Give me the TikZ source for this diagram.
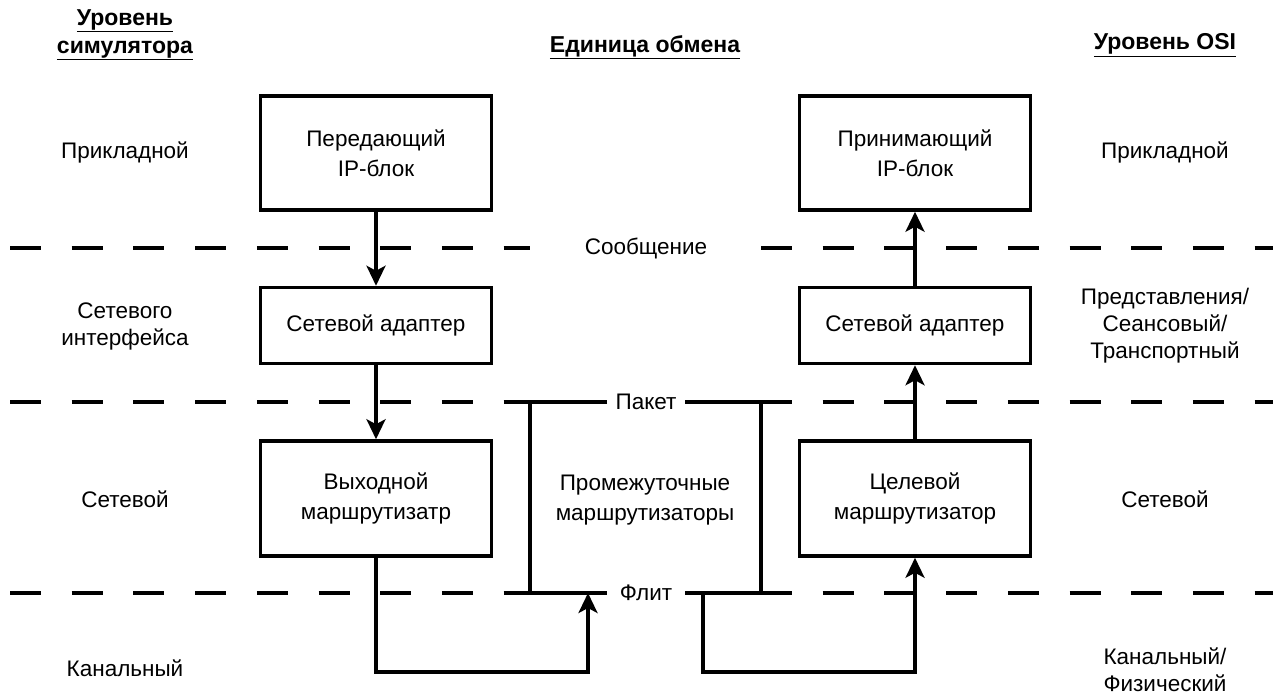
\documentclass[tikz,border=0pt]{standalone}
\usepackage{fontspec}
\setmainfont{Liberation Sans}
\usetikzlibrary{arrows.meta}
\begin{document}
\begin{tikzpicture}[x=1pt,y=-1pt,
  line width=3.3pt,
  blk/.style={draw, line width=3.5pt, minimum width=231pt, align=center,
    inner sep=0pt, font=\fontsize{22.5}{30}\selectfont},
  lvl/.style={align=center, inner sep=0pt, font=\fontsize{22.5}{27}\selectfont},
  hdr/.style={align=center, inner sep=0pt, font=\fontsize{23}{28}\selectfont\bfseries},
  unit/.style={fill=white, minimum width=78pt, inner xsep=0pt, inner ysep=3pt,
    outer sep=0pt, font=\fontsize{22.5}{27}\selectfont},
  sep/.style={dash pattern=on 31pt off 30.7pt, line width=3.3pt},
  arr/.style={-{Stealth[length=20pt,width=19pt,inset=5pt]}},
  line join=miter
]
\useasboundingbox (0,0) rectangle (1273,695);

% column headings
\node[hdr] (hSim) at (125,35) {\underline{Уровень}\\\underline{симулятора}};
\node[hdr] (hUnit) at (645,47) {\underline{Единица обмена}};
\node[hdr] (hOsi) at (1165,45) {\underline{Уровень OSI}};

% layer separators
\foreach \y in {248,402,593} {
  \draw[sep] (10,\y) -- (530,\y);
  \draw[sep] (761,\y) -- (1273,\y);
}

% simulator levels (left)
\node[lvl] (sApp) at (125,152) {Прикладной};
\node[lvl] (sNi)  at (125,326) {Сетевого\\интерфейса};
\node[lvl] (sNet) at (125,499) {Сетевой};
\node[lvl] (sLnk) at (125,668) {Канальный};

% OSI levels (right)
\node[lvl] (oApp) at (1165,152) {Прикладной};
\node[lvl] (oPst) at (1165,326) {Представления/\\Сеансовый/\\Транспортный};
\node[lvl] (oNet) at (1165,499) {Сетевой};
\node[lvl] (oLnk) at (1165,670) {Канальный/\\Физический};

% sender side
\node[blk, minimum height=114pt] (ipS) at (376,153) {Передающий\\IP-блок};
\node[blk, minimum height=76pt]  (adS) at (376,325.5) {Сетевой адаптер};
\node[blk, minimum height=115pt] (rtS) at (376,498.5) {Выходной\\маршрутизатр};

% receiver side
\node[blk, minimum height=114pt] (ipD) at (915,153) {Принимающий\\IP-блок};
\node[blk, minimum height=76pt]  (adD) at (915,325.5) {Сетевой адаптер};
\node[blk, minimum height=115pt] (rtD) at (915,498.5) {Целевой\\маршрутизатор};

% units of exchange
\node[unit] (msg) at (646,248) {Сообщение};
\node[unit] (pak) at (646,402) {Пакет};
\node[unit] (flt) at (646,593) {Флит};
\node[blk, draw=none, minimum width=0pt] (mid) at (645,500) {Промежуточные\\маршрутизаторы};

% bracket of intermediate routers
\coordinate (bTL) at (530,402);
\coordinate (bBL) at (530,593);
\coordinate (bTR) at (761,402);
\coordinate (bBR) at (761,593);
\draw (pak.west) -- (bTL) -- (bBL) -- (flt.west);
\draw (pak.east) -- (bTR) -- (bBR) -- (flt.east);

% flow through the layers
\draw[arr] (ipS) -- (adS);
\draw[arr] (adS) -- (rtS);
\draw[arr] (adD) -- (ipD);
\draw[arr] (rtD) -- (adD);

\coordinate (loopy) at (0,672);
\coordinate (flitIn) at (588,593);
\coordinate (flitOut) at (703,593);
\draw[arr] (rtS.south) -- (rtS.south |- loopy) -| (flitIn);
\draw[arr] (flitOut) -- (flitOut |- loopy) -| (rtD.south);
\end{tikzpicture}
\end{document}
